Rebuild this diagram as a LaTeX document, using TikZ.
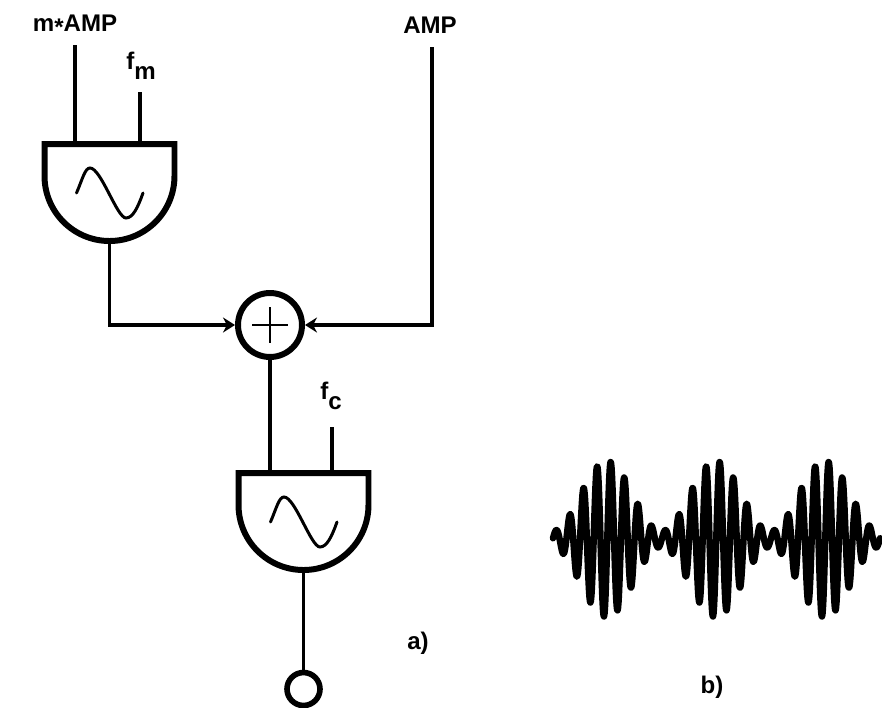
\documentclass[tikz,border=0pt]{standalone}
\usepackage{fontspec}
\setmainfont{Liberation Sans}
\usetikzlibrary{calc,arrows.meta}
\tikzset{
  wire/.style={line width=2.2pt,line cap=butt},
  feed/.style={wire,-{Stealth[length=0.24cm,width=0.3cm]}},
  oscline/.style={line width=3.4pt,line join=miter},
  oscbody/.style={minimum width=2.6cm,minimum height=1.94cm,inner sep=0pt,outer sep=0pt},
  sumnode/.style={circle,draw,line width=3.4pt,minimum size=1.28cm,inner sep=0pt,outer sep=1.7pt},
  outnode/.style={circle,draw,line width=3.2pt,minimum size=0.66cm,inner sep=0pt,outer sep=1.6pt},
  lab/.style={inner sep=0pt,font=\fontsize{13.7}{15}\selectfont\bfseries},
}
\newcommand{\OscUnit}[2]{%
  \node[oscbody] (#1) at (#2) {};
  \draw[oscline] (#1.north west) -- (#1.north east) -- ++(0,32)
    arc[start angle=0,end angle=-180,radius=1.3cm] -- cycle;
  \draw[line width=1.7pt,line cap=round] ($(#1.center)+(-33,0.5)$)
    .. controls +(6,-14) and +(-5,0) .. ++(13.5,-25)
    .. controls +(11,0) and +(-9,0) .. ++(36,50)
    .. controls +(7,0) and +(-5,14) .. ++(17,-25);}
\begin{document}
\begin{tikzpicture}[x=0.02cm,y=-0.02cm]
\useasboundingbox (0,0) rectangle (882,707);
% oscillators and summer
\OscUnit{oscM}{109.5,192.5}
\OscUnit{oscC}{303.5,521.5}
\node[sumnode] (adder) at (270,325) {};
\node[outnode] (output) at (303.5,689) {};
\draw[line width=1.5pt] ($(adder.center)+(-18,0)$) -- ($(adder.center)+(18,0)$);
\draw[line width=1.5pt] ($(adder.center)+(0,-18)$) -- ($(adder.center)+(0,18)$);
% labels
\node[lab] (depth) at (75,25) {m\raisebox{-0.3ex}{*}AMP};
\node[lab] (amp) at (430,25) {AMP};
\node[lab] (fm) at (141,66) {f\raisebox{-0.8ex}{m}};
\node[lab] (fc) at (331,396) {f\raisebox{-0.8ex}{c}};
\node[lab] (parta) at (418,643) {a)};
\node[lab] (partb) at (712,687) {b)};
% free ends
\coordinate (depthIn) at (75,45);
\coordinate (fmIn) at (140,92);
\coordinate (ampIn) at (432,47);
\coordinate (fcIn) at (332,427);
% connectors
\draw[wire] (depthIn) -- (depthIn |- oscM.north);
\draw[wire] (fmIn) -- (fmIn |- oscM.north);
\draw[wire] (fcIn) -- (fcIn |- oscC.north);
\draw[feed] (oscM.south) |- (adder.west);
\draw[feed] (ampIn) |- (adder.east);
\draw[wire] (adder.south) -- (adder.south |- oscC.north);
\draw[wire] (oscC.south) -- (output.north);
% modulated wave
\draw[line width=3.7pt,line cap=round,line join=round] plot[domain=553:880,samples=700]
  (\x,{539-(43+35*cos((\x-606.7)/109*360))*cos((\x-610.7)/13.625*360)});
\end{tikzpicture}
\end{document}
